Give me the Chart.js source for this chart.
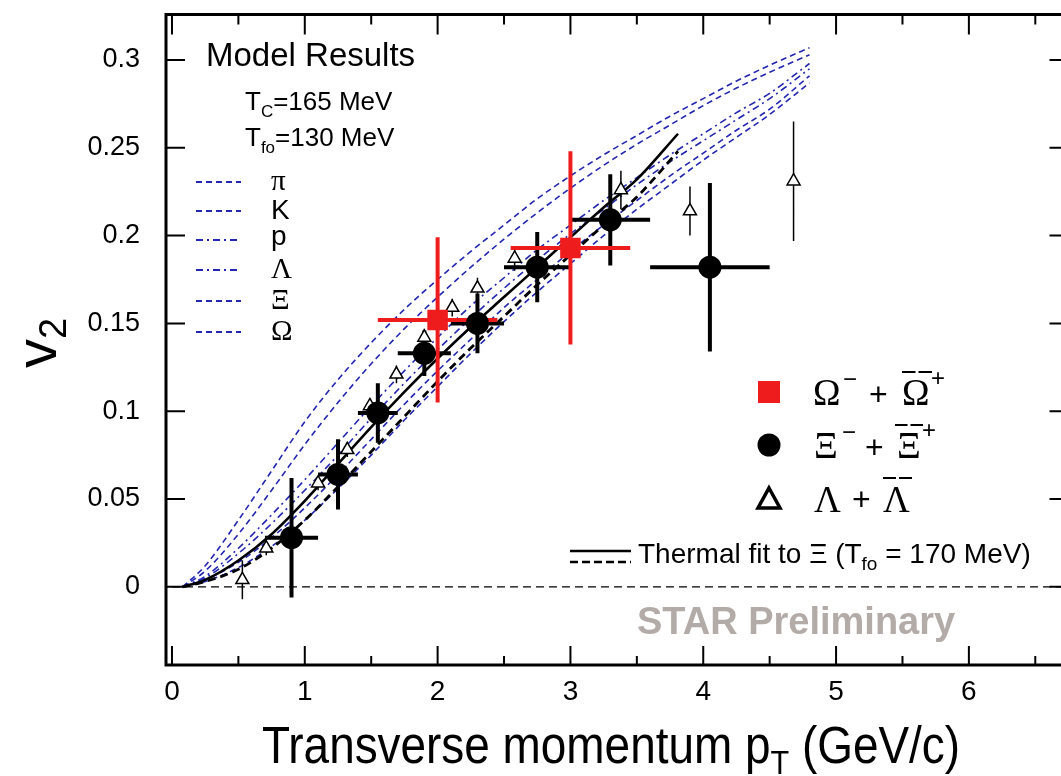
<!DOCTYPE html>
<html>
<head>
<meta charset="utf-8">
<title>v2 vs pT</title>
<script src="https://cdn.jsdelivr.net/npm/chart.js@4.4.1/dist/chart.umd.min.js"></script>
<style>
  html, body { margin:0; padding:0; background:#fff; overflow:hidden; width:1061px; height:776px; }
  #box { position:absolute; left:0; top:0; width:1083px; height:776px; }
  canvas { display:block; }
</style>
</head>
<body>
<div id="box"><canvas id="c" width="1083" height="776" style="width:1083px;height:776px"></canvas></div>
<script>
// ---------------- axes ----------------
const X_MIN = -0.045, X_MAX = 6.75;
const Y_MIN = -0.0445, Y_MAX = 0.3259;
const xTickValues = [0, 1, 2, 3, 4, 5, 6];
const xTickLabels = ['0', '1', '2', '3', '4', '5', '6'];
const xMinorTicks = [0.5, 1.5, 2.5, 3.5, 4.5, 5.5, 6.5];
const yTickValues = [0, 0.05, 0.1, 0.15, 0.2, 0.25, 0.3];
const yTickLabels = ['0', '0.05', '0.1', '0.15', '0.2', '0.25', '0.3'];

// ---------------- model curves (Tc=165, Tfo=130) ----------------
const modelPt  = [0.08, 0.25, 0.5, 0.75, 1.0, 1.25, 1.5, 1.75, 2.0, 2.25, 2.5, 2.75, 3.0, 3.25, 3.5, 3.75, 4.0, 4.25, 4.5, 4.8];
const modelPi  = [0, 0.012, 0.038, 0.066, 0.094, 0.118, 0.139, 0.158, 0.175, 0.191, 0.206, 0.221, 0.234, 0.246, 0.257, 0.268, 0.278, 0.288, 0.297, 0.307];
const modelK   = [0, 0.009, 0.030, 0.055, 0.081, 0.105, 0.127, 0.147, 0.165, 0.182, 0.198, 0.213, 0.227, 0.240, 0.252, 0.263, 0.274, 0.284, 0.293, 0.303];
const modelP   = [0, 0.006, 0.022, 0.041, 0.061, 0.082, 0.103, 0.123, 0.142, 0.160, 0.176, 0.192, 0.206, 0.220, 0.233, 0.246, 0.258, 0.270, 0.281, 0.298];
const modelLam = [0, 0.005, 0.019, 0.036, 0.055, 0.075, 0.096, 0.116, 0.135, 0.153, 0.170, 0.186, 0.201, 0.215, 0.229, 0.242, 0.254, 0.266, 0.278, 0.295];
const modelXi  = [0, 0.004, 0.014, 0.028, 0.045, 0.064, 0.084, 0.104, 0.123, 0.141, 0.159, 0.175, 0.191, 0.206, 0.220, 0.234, 0.247, 0.260, 0.272, 0.291];
const modelOm  = [0, 0.003, 0.011, 0.023, 0.038, 0.056, 0.075, 0.095, 0.114, 0.133, 0.151, 0.168, 0.184, 0.200, 0.215, 0.229, 0.243, 0.256, 0.269, 0.287];
const modelNames = ['π', 'K', 'p', 'Λ', 'Ξ', 'Ω'];

// ---------------- thermal fit to Xi ----------------
const fitPt     = [0.08, 0.25, 0.5, 0.75, 1.0, 1.25, 1.5, 1.75, 2.0, 2.25, 2.5, 2.75, 3.0, 3.25, 3.5, 3.81];
const fitSolid  = [0, 0.004, 0.015, 0.030, 0.049, 0.070, 0.091, 0.111, 0.130, 0.148, 0.165, 0.182, 0.199, 0.216, 0.232, 0.258];
const fitDashed = [0, 0.003, 0.010, 0.022, 0.038, 0.057, 0.077, 0.097, 0.117, 0.136, 0.154, 0.172, 0.189, 0.206, 0.222, 0.248];

// ---------------- data: Xi ----------------
const xiPt    = [0.90, 1.25, 1.55, 1.90, 2.30, 2.75, 3.30, 4.05];
const xiV2    = [0.028, 0.064, 0.099, 0.133, 0.150, 0.182, 0.209, 0.182];
const xiErr   = [0.034, 0.020, 0.017, 0.013, 0.017, 0.020, 0.026, 0.048];
const xiBinLo = [0.7, 1.1, 1.4, 1.7, 2.1, 2.5, 3.0, 3.6];
const xiBinHi = [1.1, 1.4, 1.7, 2.1, 2.5, 3.0, 3.6, 4.5];

// ---------------- data: Omega ----------------
const omPt    = [2.0, 3.0];
const omV2    = [0.152, 0.193];
const omErr   = [0.047, 0.055];
const omBinLo = [1.55, 2.55];
const omBinHi = [2.45, 3.45];

// ---------------- data: Lambda ----------------
const lamPt  = [0.53, 0.71, 1.10, 1.32, 1.49, 1.69, 1.90, 2.11, 2.30, 2.58, 3.38, 3.90, 4.68];
const lamV2  = [0.004, 0.022, 0.059, 0.078, 0.103, 0.121, 0.142, 0.159, 0.170, 0.187, 0.226, 0.214, 0.231];
const lamErr = [0.011, 0.004, 0.004, 0.004, 0.004, 0.005, 0.005, 0.005, 0.006, 0.007, 0.011, 0.014, 0.034];

// ---------------- helpers ----------------
const BLUE = '#2226b0';
const RED = '#ee1c1c';
const SANS = '"Liberation Sans", Arial, Helvetica, sans-serif';
const SERIF = '"Liberation Serif", "Times New Roman", serif';

function pts(xs, ys) { return xs.map((x, i) => ({ x: x, y: ys[i] })); }
function errSegments(xs, ys, ey, xlo, xhi) {
  const out = [];
  xs.forEach((x, i) => {
    out.push({ x: x, y: ys[i] - ey[i] }, { x: x, y: ys[i] + ey[i] }, { x: x, y: NaN });
    if (xlo) out.push({ x: xlo[i], y: ys[i] }, { x: xhi[i], y: ys[i] }, { x: x, y: NaN });
  });
  return out;
}
function curve(ys, dash, label) {
  return { type: 'line', label: label, data: pts(modelPt, ys), borderColor: BLUE, borderWidth: 1.6,
    borderDash: dash, pointRadius: 0, fill: false, showLine: true, cubicInterpolationMode: 'monotone', order: 9 };
}
function errSet(data, color, width, order) {
  return { type: 'line', data: data, borderColor: color, borderWidth: width, pointRadius: 0,
    showLine: true, spanGaps: false, tension: 0, fill: false, order: order };
}
function rich(ctx, x, y, parts) {
  let cx = x;
  parts.forEach(p => {
    ctx.font = p.f;
    ctx.fillText(p.t, cx, y + (p.dy || 0));
    cx += ctx.measureText(p.t).width + (p.gap || 0);
  });
  return cx;
}
function richWidth(ctx, parts) {
  let w = 0;
  parts.forEach(p => { ctx.font = p.f; w += ctx.measureText(p.t).width + (p.gap || 0); });
  return w;
}

const DASH = [6, 4];
const DASHDOT = [7, 4, 2, 4];

const datasets = [
  { type: 'scatter', label: 'Omega', data: pts(omPt, omV2), pointStyle: 'rect', pointRadius: 14.5,
    backgroundColor: RED, borderColor: RED, borderWidth: 0, order: 0 },
  { type: 'scatter', label: 'Xi', data: pts(xiPt, xiV2), pointStyle: 'circle', pointRadius: 11.5,
    backgroundColor: '#000', borderColor: '#000', borderWidth: 0, order: 1 },
  { type: 'scatter', label: 'Lambda', data: pts(lamPt, lamV2), pointStyle: 'triangle', pointRadius: 7.5,
    backgroundColor: '#fff', borderColor: '#000', borderWidth: 1.5, order: 2 },
  errSet(errSegments(omPt, omV2, omErr, omBinLo, omBinHi), RED, 4, 3),
  errSet(errSegments(xiPt, xiV2, xiErr, xiBinLo, xiBinHi), '#000', 4, 4),
  errSet(errSegments(lamPt, lamV2, lamErr), '#000', 1.5, 5),
  { type: 'line', label: 'fit solid', data: pts(fitPt, fitSolid), borderColor: '#000', borderWidth: 2.6,
    pointRadius: 0, showLine: true, fill: false, cubicInterpolationMode: 'monotone', order: 6 },
  { type: 'line', label: 'fit dashed', data: pts(fitPt, fitDashed), borderColor: '#000', borderWidth: 2.8,
    borderDash: [8, 5], pointRadius: 0, showLine: true, fill: false, cubicInterpolationMode: 'monotone', order: 7 },
  curve(modelPi, DASH, 'pi'),
  curve(modelK, DASH, 'K'),
  curve(modelP, DASHDOT, 'p'),
  curve(modelLam, DASHDOT, 'Lambda model'),
  curve(modelXi, DASH, 'Xi model'),
  curve(modelOm, DASH, 'Omega model')
];
const modelDashes = [DASH, DASH, DASHDOT, DASHDOT, DASH, DASH];

const framePlugin = {
  id: 'frame',
  beforeDatasetsDraw(chart) {
    const { ctx, chartArea: a, scales: { x, y } } = chart;
    ctx.save();
    ctx.strokeStyle = '#000'; ctx.lineWidth = 1.3; ctx.setLineDash([8, 5]);
    const y0 = y.getPixelForValue(0);
    ctx.beginPath(); ctx.moveTo(x.getPixelForValue(0), y0); ctx.lineTo(a.right, y0); ctx.stroke();
    ctx.restore();
  },
  afterDraw(chart) {
    const { ctx, chartArea: a, scales: { x: xs, y: ys } } = chart;
    ctx.save();
    // frame
    ctx.setLineDash([]);
    ctx.strokeStyle = '#000'; ctx.lineWidth = 3;
    ctx.strokeRect(a.left, a.top, a.right - a.left, a.bottom - a.top);
    // inward ticks
    ctx.lineWidth = 2;
    ctx.beginPath();
    xTickValues.forEach(v => { const p = xs.getPixelForValue(v);
      ctx.moveTo(p, a.bottom); ctx.lineTo(p, a.bottom - 19); ctx.moveTo(p, a.top); ctx.lineTo(p, a.top + 20); });
    xMinorTicks.forEach(v => { const p = xs.getPixelForValue(v);
      ctx.moveTo(p, a.bottom); ctx.lineTo(p, a.bottom - 9); ctx.moveTo(p, a.top); ctx.lineTo(p, a.top + 10); });
    yTickValues.forEach(v => { const p = ys.getPixelForValue(v);
      ctx.moveTo(a.left, p); ctx.lineTo(a.left + 19, p); ctx.moveTo(a.right, p); ctx.lineTo(a.right - 19, p); });
    ctx.stroke();

    ctx.fillStyle = '#000'; ctx.textAlign = 'left'; ctx.textBaseline = 'alphabetic';

    // x axis title (slightly condensed)
    const xt = [
      { t: 'Transverse momentum p', f: '51px ' + SANS },
      { t: 'T', f: '34px ' + SANS, dy: 11 },
      { t: ' (GeV/c)', f: '51px ' + SANS }
    ];
    const xw = richWidth(ctx, xt);
    const sx = 0.9;
    ctx.save();
    ctx.translate(611, 763);
    ctx.scale(sx, 1);
    rich(ctx, -xw / 2, 0, xt);
    ctx.restore();

    // y axis title
    ctx.save();
    ctx.translate(56, 368);
    ctx.rotate(-Math.PI / 2);
    rich(ctx, 0, 0, [{ t: 'v', f: '58px ' + SANS }, { t: '2', f: '38px ' + SANS, dy: 10 }]);
    ctx.restore();

    // Model Results block
    ctx.font = '33px ' + SANS;
    ctx.fillText('Model Results', 206, 66);
    rich(ctx, 245, 110, [{ t: 'T', f: '26px ' + SANS }, { t: 'C', f: '17px ' + SANS, dy: 7 }, { t: '=165 MeV', f: '26px ' + SANS }]);
    rich(ctx, 245, 146, [{ t: 'T', f: '26px ' + SANS }, { t: 'fo', f: '17px ' + SANS, dy: 7 }, { t: '=130 MeV', f: '26px ' + SANS }]);

    const rowsY = [182, 211, 240, 270, 301, 332];
    ctx.strokeStyle = BLUE; ctx.lineWidth = 2.2;
    rowsY.forEach((yy, i) => {
      ctx.setLineDash(modelDashes[i]);
      ctx.beginPath(); ctx.moveTo(196, yy); ctx.lineTo(241, yy); ctx.stroke();
    });
    ctx.setLineDash([]);
    ctx.textBaseline = 'middle';
    modelNames.forEach((n, i) => {
      const greek = (n !== 'K' && n !== 'p');
      ctx.font = greek ? '29px ' + SERIF : '28px ' + SANS;
      ctx.fillText(n, 271, rowsY[i] + (n === 'p' ? -3 : 0));
    });
    ctx.textBaseline = 'alphabetic';

    // right legend: markers
    ctx.fillStyle = RED;
    ctx.fillRect(758, 381, 22, 22);
    ctx.fillStyle = '#000';
    ctx.beginPath(); ctx.arc(769, 445, 11.5, 0, Math.PI * 2); ctx.fill();
    ctx.strokeStyle = '#000'; ctx.lineWidth = 3.5; ctx.lineJoin = 'miter';
    ctx.beginPath(); ctx.moveTo(769, 488); ctx.lineTo(780, 508); ctx.lineTo(758, 508); ctx.closePath(); ctx.stroke();

    // right legend: labels (symbol, superscripts, overbars)
    const big = '37px ' + SERIF, sup = '24px ' + SANS, plus = '32px ' + SANS;
    function bar(x0, x1, yy) {
      const mid = (x0 + x1) / 2;
      ctx.lineWidth = 2; ctx.strokeStyle = '#000';
      ctx.beginPath();
      ctx.moveTo(x0, yy); ctx.lineTo(mid - 1.5, yy);
      ctx.moveTo(mid + 1.5, yy); ctx.lineTo(x1, yy);
      ctx.stroke();
    }
    ctx.fillStyle = '#000';
    // Omega row
    ctx.font = big; ctx.fillText('Ω', 813, 405);
    ctx.font = sup; ctx.fillText('−', 843, 387);
    ctx.font = plus; ctx.fillText('+', 869, 405);
    ctx.font = big; ctx.fillText('Ω', 902, 405);
    bar(902, 932, 372);
    ctx.font = sup; ctx.fillText('+', 931, 386);
    // Xi row
    ctx.font = big; ctx.fillText('Ξ', 814, 458);
    ctx.font = sup; ctx.fillText('−', 842, 440);
    ctx.font = plus; ctx.fillText('+', 865, 458);
    ctx.font = big; ctx.fillText('Ξ', 897, 458);
    bar(895, 923, 425);
    ctx.font = sup; ctx.fillText('+', 922, 438);
    // Lambda row
    ctx.font = big; ctx.fillText('Λ', 814, 512);
    ctx.font = plus; ctx.fillText('+', 852, 510);
    ctx.font = big; ctx.fillText('Λ', 883, 512);
    bar(883, 912, 478);

    // thermal fit legend
    ctx.strokeStyle = '#000'; ctx.lineWidth = 2.6;
    ctx.beginPath(); ctx.moveTo(570, 551); ctx.lineTo(631, 551); ctx.stroke();
    ctx.setLineDash([8, 4]);
    ctx.beginPath(); ctx.moveTo(570, 562); ctx.lineTo(631, 562); ctx.stroke();
    ctx.setLineDash([]);
    rich(ctx, 638, 563, [
      { t: 'Thermal fit to Ξ (T', f: '28px ' + SANS },
      { t: 'fo', f: '19px ' + SANS, dy: 7 },
      { t: ' = 170 MeV)', f: '28px ' + SANS }
    ]);

    // STAR Preliminary
    ctx.fillStyle = '#b3aba7';
    ctx.font = 'bold 38px ' + SANS;
    ctx.fillText('STAR Preliminary', 637, 634);
    ctx.restore();
  }
};

new Chart(document.getElementById('c'), {
  type: 'scatter',
  data: { datasets: datasets },
  options: {
    responsive: false,
    animation: false,
    devicePixelRatio: 1,
    layout: { padding: { top: 11, right: 7, left: 0, bottom: 0 } },
    plugins: { legend: { display: false }, tooltip: { enabled: false }, title: { display: false } },
    scales: {
      x: {
        type: 'linear', position: 'bottom', min: X_MIN, max: X_MAX,
        grid: { display: false, drawTicks: false }, border: { display: false },
        afterBuildTicks: s => { s.ticks = xTickValues.map(v => ({ value: v })); },
        afterFit: s => { s.height = 111; s.paddingLeft = 0; s.paddingRight = 0; },
        ticks: { padding: 10, color: '#000', autoSkip: false, maxRotation: 0,
          font: { family: SANS, size: 28 },
          callback: (v, i) => xTickLabels[i] }
      },
      y: {
        type: 'linear', position: 'left', min: Y_MIN, max: Y_MAX,
        grid: { display: false, drawTicks: false }, border: { display: false },
        afterBuildTicks: s => { s.ticks = yTickValues.map(v => ({ value: v })); },
        afterFit: s => { s.width = 166; s.paddingTop = 0; s.paddingBottom = 0; },
        ticks: { padding: 26, color: '#000', autoSkip: false,
          font: { family: SANS, size: 27 },
          callback: (v, i) => yTickLabels[i] }
      }
    }
  },
  plugins: [framePlugin]
});
</script>
</body>
</html>
